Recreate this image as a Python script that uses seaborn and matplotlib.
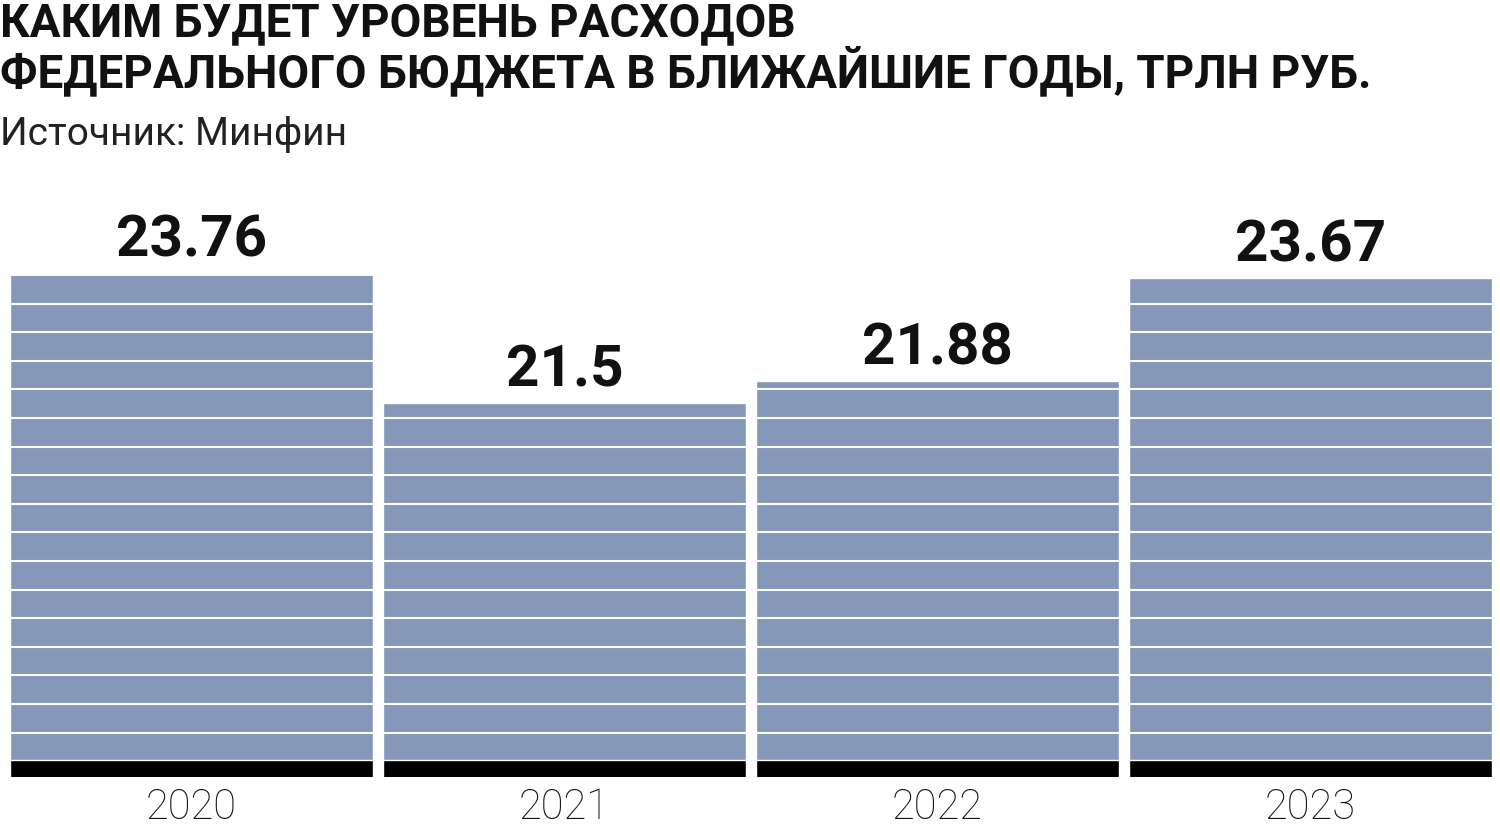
import matplotlib
matplotlib.use("Agg")
import matplotlib.pyplot as plt
import numpy as np
import pandas as pd
import seaborn as sns

years = ["2020", "2021", "2022", "2023"]
spending = [23.76, 21.5, 21.88, 23.67]
value_labels = ["23.76", "21.5", "21.88", "23.67"]

TITLE = "КАКИМ БУДЕТ УРОВЕНЬ РАСХОДОВ\nФЕДЕРАЛЬНОГО БЮДЖЕТА В БЛИЖАЙШИЕ ГОДЫ, ТРЛН РУБ."
SOURCE = "Источник: Минфин"

BAR_COLOR = "#8598BA"
Y_MIN = 15.0
Y_MAX = 25.38
BASE_TOP = 15.3

sns.set_theme(style="white")
plt.rcParams["font.family"] = ["Roboto", "DejaVu Sans"]

df = pd.DataFrame({"year": years, "spending": spending})
base = pd.DataFrame({"year": years, "spending": [BASE_TOP] * len(years)})

fig = plt.figure(figsize=(15, 8.26), dpi=100)
ax = fig.add_axes([5 / 1500, 1 - 777 / 826, 1492 / 1500, (777 - 180) / 826])

sns.barplot(data=df, x="year", y="spending", color=BAR_COLOR, saturation=1,
            width=363 / 373, ax=ax)
sns.barplot(data=base, x="year", y="spending", color="black", saturation=1,
            width=363 / 373, ax=ax)

ax.set_ylim(Y_MIN, Y_MAX)
ax.set_xlim(-0.5, len(years) - 0.5)

# white stripes over the bars
ax.set_yticks(np.linspace(15.77, 23.73, 17))
ax.set_axisbelow(False)
ax.yaxis.grid(True, color="white", linewidth=1.5)
ax.xaxis.grid(False)
ax.tick_params(axis="y", left=False, labelleft=False)
ax.tick_params(axis="x", bottom=False, pad=1)
for label in ax.get_xticklabels():
    label.set_fontsize(30)
    label.set_fontweight("light")
    label.set_color("#111111")
ax.set_xlabel("")
ax.set_ylabel("")
sns.despine(ax=ax, left=True, bottom=True)

for i, (v, txt) in enumerate(zip(spending, value_labels)):
    ax.annotate(txt, (i, v), xytext=(0, 12), textcoords="offset points",
                ha="center", va="baseline", fontsize=42, fontweight="bold",
                color="#111111")

fig.text(0.0, 1 - 1 / 826, TITLE, ha="left", va="top", fontsize=33,
         fontweight="bold", color="#111111", linespacing=1.02)
fig.text(0.0, 1 - 145 / 826, SOURCE, ha="left", va="baseline", fontsize=28,
         fontweight="normal", color="#222222")

fig.savefig("out.png", dpi=100, facecolor="white")
